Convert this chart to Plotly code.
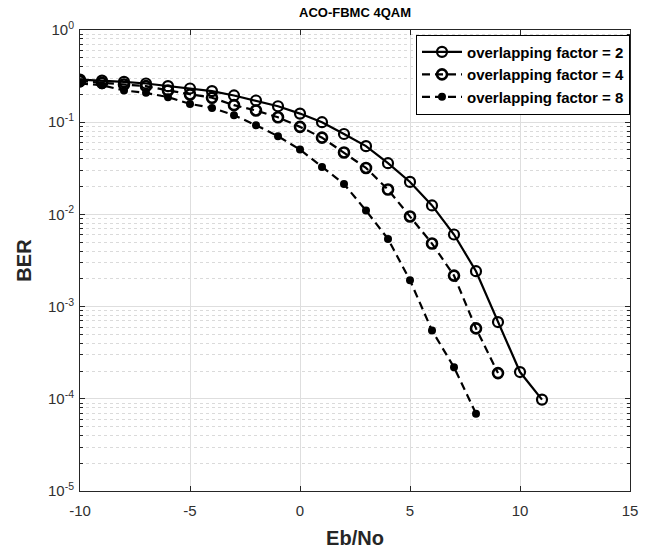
import plotly.graph_objects as go

ebno_2 = list(range(-10, 12))
ber_2 = [0.290, 0.283, 0.274, 0.263, 0.246, 0.232, 0.217, 0.195, 0.172, 0.149,
         0.124, 0.100, 0.0745, 0.055, 0.0359, 0.0225, 0.0125, 0.00605, 0.00242,
         6.8e-4, 1.95e-4, 9.8e-5]

ebno_4 = list(range(-10, 10))
ber_4 = [0.279, 0.267, 0.256, 0.246, 0.221, 0.200, 0.184, 0.153, 0.134, 0.113,
         0.089, 0.068, 0.047, 0.0319, 0.0186, 0.0095, 0.00483, 0.00217,
         5.8e-4, 1.9e-4]

ebno_8 = list(range(-10, 9))
ber_8 = [0.263, 0.252, 0.221, 0.208, 0.187, 0.158, 0.143, 0.119, 0.0927, 0.0705,
         0.0505, 0.0327, 0.0214, 0.0110, 0.00542, 0.00193, 5.5e-4, 2.2e-4, 6.9e-5]

names = ["overlapping factor = 2", "overlapping factor = 4", "overlapping factor = 8"]

x_ticks = [-10, -5, 0, 5, 10, 15]
y_ticks = [1e-5, 1e-4, 1e-3, 1e-2, 1e-1, 1]
y_ticktext = ["10<sup>-5</sup>", "10<sup>-4</sup>", "10<sup>-3</sup>",
              "10<sup>-2</sup>", "10<sup>-1</sup>", "10<sup>0</sup>"]
minor_vals = [m * 10.0 ** e for e in range(-5, 0) for m in range(2, 10)]

FONT = "Liberation Sans, Arial"

fig = go.Figure()
fig.add_trace(go.Scatter(
    x=ebno_2, y=ber_2, name=names[0], mode="lines+markers",
    line=dict(color="black", width=2.2),
    marker=dict(symbol="circle-open", size=10, color="black", line=dict(width=2.2)),
))
fig.add_trace(go.Scatter(
    x=ebno_4, y=ber_4, name=names[1], mode="lines+markers",
    line=dict(color="black", width=2.2, dash="8px,5px"),
    marker=dict(symbol="circle-open", size=10, color="black", line=dict(width=2.6)),
))
fig.add_trace(go.Scatter(
    x=ebno_8, y=ber_8, name=names[2], mode="lines+markers",
    line=dict(color="black", width=2.2, dash="8px,5px"),
    marker=dict(symbol="circle", size=8, color="black"),
))

axis_common = dict(
    showline=True, linecolor="#262626", linewidth=1, mirror="ticks",
    ticks="inside", ticklen=5, tickcolor="#262626",
    gridcolor="#dedede", gridwidth=1, zeroline=False, automargin=False,
    tickfont=dict(family=FONT, size=15, color="#303030"),
)

fig.update_xaxes(
    range=[-10, 15], tickvals=x_ticks, ticktext=[str(v) for v in x_ticks],
    ticklabelstandoff=6,
    title=dict(text="<b>Eb/No</b>", font=dict(family=FONT, size=20, color="#262626"), standoff=12),
    **axis_common,
)
fig.update_yaxes(
    type="log", range=[-5, 0], tickvals=y_ticks, ticktext=y_ticktext,
    ticklabelstandoff=2,
    title=dict(text="<b>BER</b>", font=dict(family=FONT, size=20, color="#262626"), standoff=10),
    minor=dict(tickmode="array", tickvals=minor_vals, ticks="inside", ticklen=3,
               tickcolor="#262626", showgrid=True, gridcolor="#dadada", griddash="dot", gridwidth=1),
    **axis_common,
)

fig.update_layout(
    width=664, height=551,
    margin=dict(l=80, r=34, t=30, b=60),
    paper_bgcolor="white", plot_bgcolor="white",
    title=dict(text="<b>ACO-FBMC 4QAM</b>", x=0.5, xref="paper", xanchor="center",
               y=0.985, yanchor="top",
               font=dict(family=FONT, size=13, color="black")),
    legend=dict(x=1, y=0.99, xanchor="right", yanchor="top",
                bordercolor="black", borderwidth=1, bgcolor="white",
                font=dict(family=FONT, size=15, color="black", weight="bold"),
                tracegroupgap=0, itemwidth=40),
    showlegend=True,
)

fig.write_html("out.html")
